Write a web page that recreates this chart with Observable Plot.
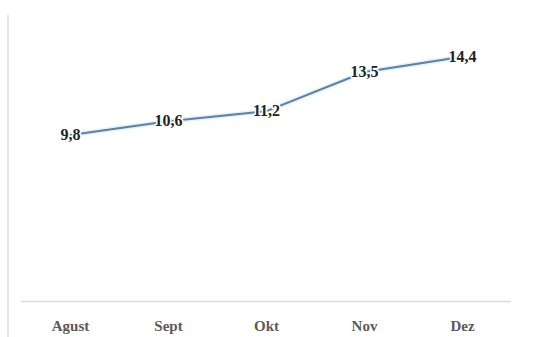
<!DOCTYPE html>
<html>
<head>
<meta charset="utf-8">
<script src="https://cdn.jsdelivr.net/npm/d3@7"></script>
<script src="https://cdn.jsdelivr.net/npm/@observablehq/plot@0.6"></script>
<style>
  html, body { margin: 0; padding: 0; background: #fff; }
  #wrap { position: relative; width: 558px; height: 337px; }
  #edge { position: absolute; left: 7px; top: 15px; width: 2px; height: 322px; background: #e4e4e4; }
  #chart { position: absolute; left: 0; top: 0; }
</style>
</head>
<body>
<div id="wrap"><div id="edge"></div><div id="chart"></div></div>
<script>
const months = ["Agust", "Sept", "Okt", "Nov", "Dez"];
const values = [9.8, 10.6, 11.2, 13.5, 14.4];
const labels = ["9,8", "10,6", "11,2", "13,5", "14,4"];

const data = months.map((m, i) => ({month: m, value: values[i], label: labels[i]}));

const chart = Plot.plot({
  width: 558,
  height: 337,
  marginLeft: 21,
  marginRight: 47,
  marginTop: 29,
  marginBottom: 36,
  style: {background: "transparent", overflow: "visible"},
  x: {type: "point", domain: months, padding: 0.5, label: null, axis: null},
  y: {domain: [0, 16], axis: null},
  marks: [
    Plot.ruleY([0], {stroke: "#dcdcdc", strokeWidth: 1.5}),
    Plot.axisX({
      anchor: "bottom",
      tickSize: 0,
      tickPadding: 19,
      fontSize: 15,
      fontFamily: "Liberation Serif",
      fontWeight: "bold",
      fill: "#5a5a5a"
    }),
    Plot.line(data, {x: "month", y: "value", stroke: "#c8ecf6", strokeWidth: 5, strokeOpacity: 0.6}),
    Plot.line(data, {x: "month", y: "value", stroke: "#687c9c", strokeWidth: 2}),
    Plot.text(data, {
      x: "month", y: "value", text: "label",
      fontSize: 16, fontWeight: "bold", fontFamily: "Liberation Serif",
      fill: "#222", stroke: "white", strokeWidth: 3, paintOrder: "stroke"
    })
  ]
});
document.getElementById("chart").appendChild(chart);
</script>
</body>
</html>
